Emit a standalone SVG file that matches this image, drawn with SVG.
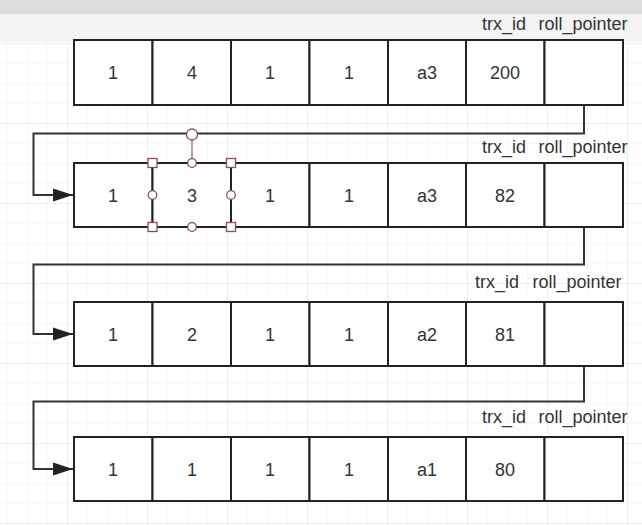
<svg xmlns="http://www.w3.org/2000/svg" width="642" height="525" viewBox="0 0 642 525">
<defs>
<pattern id="minor" x="7" y="43" width="20" height="20" patternUnits="userSpaceOnUse">
<path d="M0,0 H20 M0,0 V20" fill="none" stroke="#efefef" stroke-width="1"/>
</pattern>
<pattern id="major" x="67" y="43" width="80" height="80" patternUnits="userSpaceOnUse">
<path d="M0,0 H80 M0,0 V80" fill="none" stroke="#e5e5e5" stroke-width="1"/>
</pattern>
<marker id="arr" markerWidth="20" markerHeight="14" refX="20" refY="7" orient="auto" markerUnits="userSpaceOnUse">
<path d="M0,0.5 L20,7 L0,13.5 Z" fill="#222"/>
</marker>
</defs>
<style>
.cell{fill:#ffffff;stroke:#222;stroke-width:2}
.t{font-family:"Liberation Sans",Arial,sans-serif;font-size:18px;fill:#333;text-anchor:middle;dominant-baseline:central}
.lbl{font-family:"Liberation Sans",Arial,sans-serif;font-size:18px;fill:#333;text-anchor:middle;dominant-baseline:central}
.conn{fill:none;stroke:#333;stroke-width:2}
.hs{fill:#fff;stroke:#8a4a58;stroke-width:1.3}
</style>
<rect x="0" y="0" width="642" height="525" fill="#ffffff"/>
<rect x="0" y="42" width="642" height="483" fill="url(#minor)"/>
<rect x="0" y="42" width="642" height="483" fill="url(#major)"/>
<rect x="0" y="0" width="642" height="14" fill="#dcdcdc"/>
<rect x="0" y="14" width="642" height="28" fill="#f3f3f3"/>

<g id="connectors">
<path class="conn" d="M584,105 V133.5 H33.5 V195 H73" marker-end="url(#arr)"/>
<path class="conn" d="M584,227 V264.5 H33.5 V334 H73" marker-end="url(#arr)"/>
<path class="conn" d="M584,366 V401.5 H33.5 V469 H73" marker-end="url(#arr)"/>
</g>

<g id="row1">
<rect class="cell" x="74" y="40" width="78.5" height="65"/>
<rect class="cell" x="152.5" y="40" width="78.5" height="65"/>
<rect class="cell" x="231" y="40" width="78.5" height="65"/>
<rect class="cell" x="309.5" y="40" width="78.5" height="65"/>
<rect class="cell" x="388" y="40" width="78" height="65"/>
<rect class="cell" x="466" y="40" width="78.5" height="65"/>
<rect class="cell" x="544.5" y="40" width="78.5" height="65"/>
<text class="t" x="113" y="73">1</text>
<text class="t" x="192" y="73">4</text>
<text class="t" x="270" y="73">1</text>
<text class="t" x="349" y="73">1</text>
<text class="t" x="427" y="73">a3</text>
<text class="t" x="505" y="73">200</text>
<text class="lbl" x="504" y="24">trx_id</text>
<text class="lbl" x="583" y="24">roll_pointer</text>
</g>

<g id="row2">
<rect class="cell" x="74" y="163" width="78.5" height="64"/>
<rect class="cell" x="152.5" y="163" width="78.5" height="64"/>
<rect class="cell" x="231" y="163" width="78.5" height="64"/>
<rect class="cell" x="309.5" y="163" width="78.5" height="64"/>
<rect class="cell" x="388" y="163" width="78" height="64"/>
<rect class="cell" x="466" y="163" width="78.5" height="64"/>
<rect class="cell" x="544.5" y="163" width="78.5" height="64"/>
<text class="t" x="113" y="196">1</text>
<text class="t" x="192" y="196">3</text>
<text class="t" x="270" y="196">1</text>
<text class="t" x="349" y="196">1</text>
<text class="t" x="427" y="196">a3</text>
<text class="t" x="505" y="196">82</text>
<text class="lbl" x="504" y="147">trx_id</text>
<text class="lbl" x="583" y="147">roll_pointer</text>
</g>

<g id="selection">
<line x1="192" y1="140" x2="192" y2="159" stroke="#a06a78" stroke-width="1.3"/>
<circle class="hs" cx="192" cy="134.5" r="5.5"/>
<rect class="hs" x="148" y="158.5" width="9" height="9"/>
<rect class="hs" x="226.5" y="158.5" width="9" height="9"/>
<rect class="hs" x="148" y="222.5" width="9" height="9"/>
<rect class="hs" x="226.5" y="222.5" width="9" height="9"/>
<circle class="hs" cx="192" cy="163" r="4.3"/>
<circle class="hs" cx="192" cy="227" r="4.3"/>
<circle class="hs" cx="152.5" cy="195" r="4.3"/>
<circle class="hs" cx="231" cy="195" r="4.3"/>
</g>

<g id="row3">
<rect class="cell" x="74" y="302" width="78.5" height="64"/>
<rect class="cell" x="152.5" y="302" width="78.5" height="64"/>
<rect class="cell" x="231" y="302" width="78.5" height="64"/>
<rect class="cell" x="309.5" y="302" width="78.5" height="64"/>
<rect class="cell" x="388" y="302" width="78" height="64"/>
<rect class="cell" x="466" y="302" width="78.5" height="64"/>
<rect class="cell" x="544.5" y="302" width="78.5" height="64"/>
<text class="t" x="113" y="335">1</text>
<text class="t" x="192" y="335">2</text>
<text class="t" x="270" y="335">1</text>
<text class="t" x="349" y="335">1</text>
<text class="t" x="427" y="335">a2</text>
<text class="t" x="505" y="335">81</text>
<text class="lbl" x="497" y="282">trx_id</text>
<text class="lbl" x="577" y="282">roll_pointer</text>
</g>

<g id="row4">
<rect class="cell" x="74" y="437" width="78.5" height="64"/>
<rect class="cell" x="152.5" y="437" width="78.5" height="64"/>
<rect class="cell" x="231" y="437" width="78.5" height="64"/>
<rect class="cell" x="309.5" y="437" width="78.5" height="64"/>
<rect class="cell" x="388" y="437" width="78" height="64"/>
<rect class="cell" x="466" y="437" width="78.5" height="64"/>
<rect class="cell" x="544.5" y="437" width="78.5" height="64"/>
<text class="t" x="113" y="470">1</text>
<text class="t" x="192" y="470">1</text>
<text class="t" x="270" y="470">1</text>
<text class="t" x="349" y="470">1</text>
<text class="t" x="427" y="470">a1</text>
<text class="t" x="505" y="470">80</text>
<text class="lbl" x="504" y="417">trx_id</text>
<text class="lbl" x="583" y="417">roll_pointer</text>
</g>
</svg>
